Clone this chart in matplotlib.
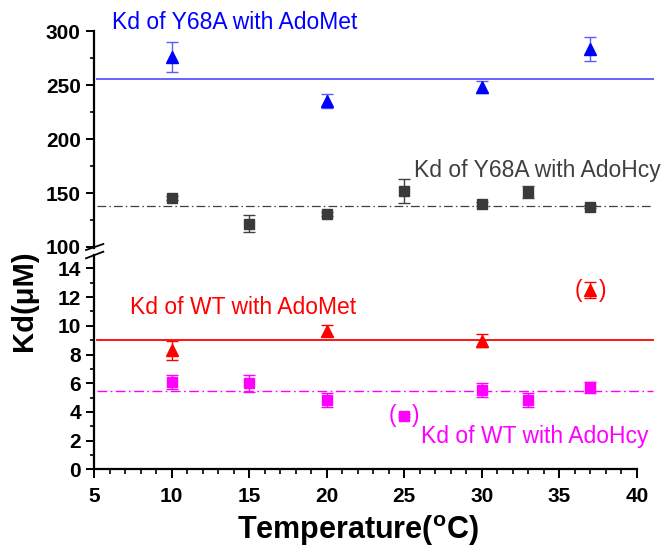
"""Kd vs temperature with a broken y axis (Y68A on top, WT below)."""
import numpy as np
import matplotlib
matplotlib.use("Agg")
import matplotlib.pyplot as plt
from matplotlib.lines import Line2D

plt.rcParams["font.family"] = ["Liberation Sans", "DejaVu Sans"]
plt.rcParams["mathtext.fontset"] = "custom"
plt.rcParams["mathtext.rm"] = "Liberation Sans"
plt.rcParams["mathtext.bf"] = "Liberation Sans:bold"

# --- data ---
y68a_met_t = [10, 20, 30, 37]
y68a_met_kd = [276.5, 235.5, 248.7, 283.7]
y68a_met_err = [14.0, 6.5, 5.5, 10.8]
y68a_met_mean = 256.0

y68a_hcy_t = [10, 15, 20, 25, 30, 33, 37]
y68a_hcy_kd = [145.7, 121.6, 130.6, 151.9, 139.6, 150.7, 137.4]
y68a_hcy_err = [2.0, 7.7, 2.0, 10.7, 2.0, 5.7, 1.5]
y68a_hcy_mean = 138.0

wt_met_t = [10, 20, 30, 37]
wt_met_kd = [8.28, 9.66, 8.96, 12.47]
wt_met_err = [0.66, 0.37, 0.45, 0.56]
wt_met_mean = 9.0

wt_hcy_t = [10, 15, 20, 25, 30, 33, 37]
wt_hcy_kd = [6.10, 6.00, 4.81, 3.74, 5.51, 4.81, 5.72]
wt_hcy_err = [0.50, 0.59, 0.49, 0.12, 0.49, 0.49, 0.37]
wt_hcy_mean = 5.49

W, H = 664, 548


def fx(x):
    return x / W


def fy(y):
    return 1 - y / H


fig = plt.figure(figsize=(W / 100, H / 100), dpi=100)
left, right = 94, 637
ax_top = fig.add_axes([fx(left), fy(248), fx(right - left), fy(31.4) - fy(248)])
ax_bot = fig.add_axes([fx(left), fy(469.4), fx(right - left), fy(255) - fy(469.4)])

DASHDOT = (0, (7, 2.5, 1.2, 2.5))
line_x = [5.2, 41.0]

# top panel: Y68A
ax_top.plot(line_x, [y68a_met_mean] * 2, color="#6464ff", lw=1.4, clip_on=False, zorder=1)
ax_top.plot(line_x, [y68a_hcy_mean] * 2, color="#404040", lw=0.9, ls=DASHDOT,
            clip_on=False, zorder=1)
ax_top.errorbar(y68a_met_t, y68a_met_kd, yerr=y68a_met_err, fmt="^", ms=9,
                color="#0000ff", ecolor="#5a5aff", elinewidth=1, capsize=4,
                capthick=1, clip_on=False, zorder=3)
ax_top.errorbar(y68a_hcy_t, y68a_hcy_kd, yerr=y68a_hcy_err, fmt="s", ms=7,
                color="#3a3a3a", ecolor="#404040", elinewidth=1, capsize=4,
                capthick=1, clip_on=False, zorder=3)

# bottom panel: WT
ax_bot.plot(line_x, [wt_met_mean] * 2, color="#ff0000", lw=1.3, clip_on=False, zorder=1)
ax_bot.plot(line_x, [wt_hcy_mean] * 2, color="#ff00ff", lw=1.0, ls=DASHDOT,
            clip_on=False, zorder=1)
ax_bot.errorbar(wt_met_t, wt_met_kd, yerr=wt_met_err, fmt="^", ms=9,
                color="#ff0000", ecolor="#ff0000", elinewidth=1, capsize=4,
                capthick=1, clip_on=False, zorder=3)
ax_bot.errorbar(wt_hcy_t, wt_hcy_kd, yerr=wt_hcy_err, fmt="s", ms=7,
                color="#ff00ff", ecolor="#ff00ff", elinewidth=1, capsize=4,
                capthick=1, clip_on=False, zorder=3)

# parentheses around the excluded points
for (t, kd, c) in [(37, wt_met_kd[3], "#ff0000"), (25, wt_hcy_kd[3], "#ff00ff")]:
    for s, dx in [("(", -8.5), (")", 8.5)]:
        ax_bot.annotate(s, (t, kd), xytext=(dx, 0), textcoords="offset points",
                        ha="center", va="center", color=c, fontsize=16.5)

# axes styling
for ax in (ax_top, ax_bot):
    ax.set_xlim(5, 40)
    ax.spines["right"].set_visible(False)
    ax.spines["top"].set_visible(False)
    ax.spines["left"].set_linewidth(1.6)
    ax.spines["bottom"].set_linewidth(1.6)
    ax.tick_params(axis="y", which="major", length=5.5, width=1.4, pad=4,
                   labelsize=15)
    ax.tick_params(axis="y", which="minor", length=3, width=1.2)

ax_top.set_ylim(99, 300)
ax_top.set_yticks([100, 150, 200, 250, 300])
ax_top.set_yticks([125, 175, 225, 275], minor=True)
ax_top.spines["bottom"].set_visible(False)
ax_top.tick_params(axis="x", which="both", bottom=False, labelbottom=False)

ax_bot.set_ylim(0, 14.93)
ax_bot.set_yticks(np.arange(0, 15, 2))
ax_bot.set_yticks(np.arange(1, 15, 2), minor=True)
ax_bot.set_xticks(np.arange(5, 41, 5))
ax_bot.set_xticks(np.arange(5, 41, 1), minor=True)
ax_bot.tick_params(axis="x", which="major", length=6.5, width=1.4, pad=6.5,
                   labelsize=15)
ax_bot.tick_params(axis="x", which="minor", length=3.5, width=1.2)

for ax in (ax_top, ax_bot):
    for lbl in ax.get_yticklabels() + ax.get_xticklabels():
        lbl.set_fontweight("bold")

# break marks on the y axis
for (x0, y0, x1, y1) in [(86, 250, 103.3, 244), (86, 258.3, 103.3, 251.7)]:
    fig.add_artist(Line2D([fx(x0), fx(x1)], [fy(y0), fy(y1)], color="black",
                          lw=1.3, transform=fig.transFigure))

# series labels
fig.text(fx(111.7), fy(29), "Kd of Y68A with AdoMet", color="#0000ff",
         fontsize=16.5, va="baseline")
fig.text(fx(414), fy(176.7), "Kd of Y68A with AdoHcy", color="#404040",
         fontsize=16.5, va="baseline")
fig.text(fx(130), fy(314), "Kd of WT with AdoMet", color="#ff0000",
         fontsize=16.5, va="baseline")
fig.text(fx(421), fy(442.7), "Kd of WT with AdoHcy", color="#ff00ff",
         fontsize=16.5, va="baseline")

# axis titles
fig.text(fx(358), fy(531), r"Temperature($^\mathbf{o}$C)", fontsize=22,
         fontweight="bold", ha="center", va="center")
fig.text(fx(24.5), fy(301), "Kd(μM)", fontsize=21, fontweight="bold",
         rotation=90, ha="center", va="center")

fig.savefig("out.png", dpi=100)
